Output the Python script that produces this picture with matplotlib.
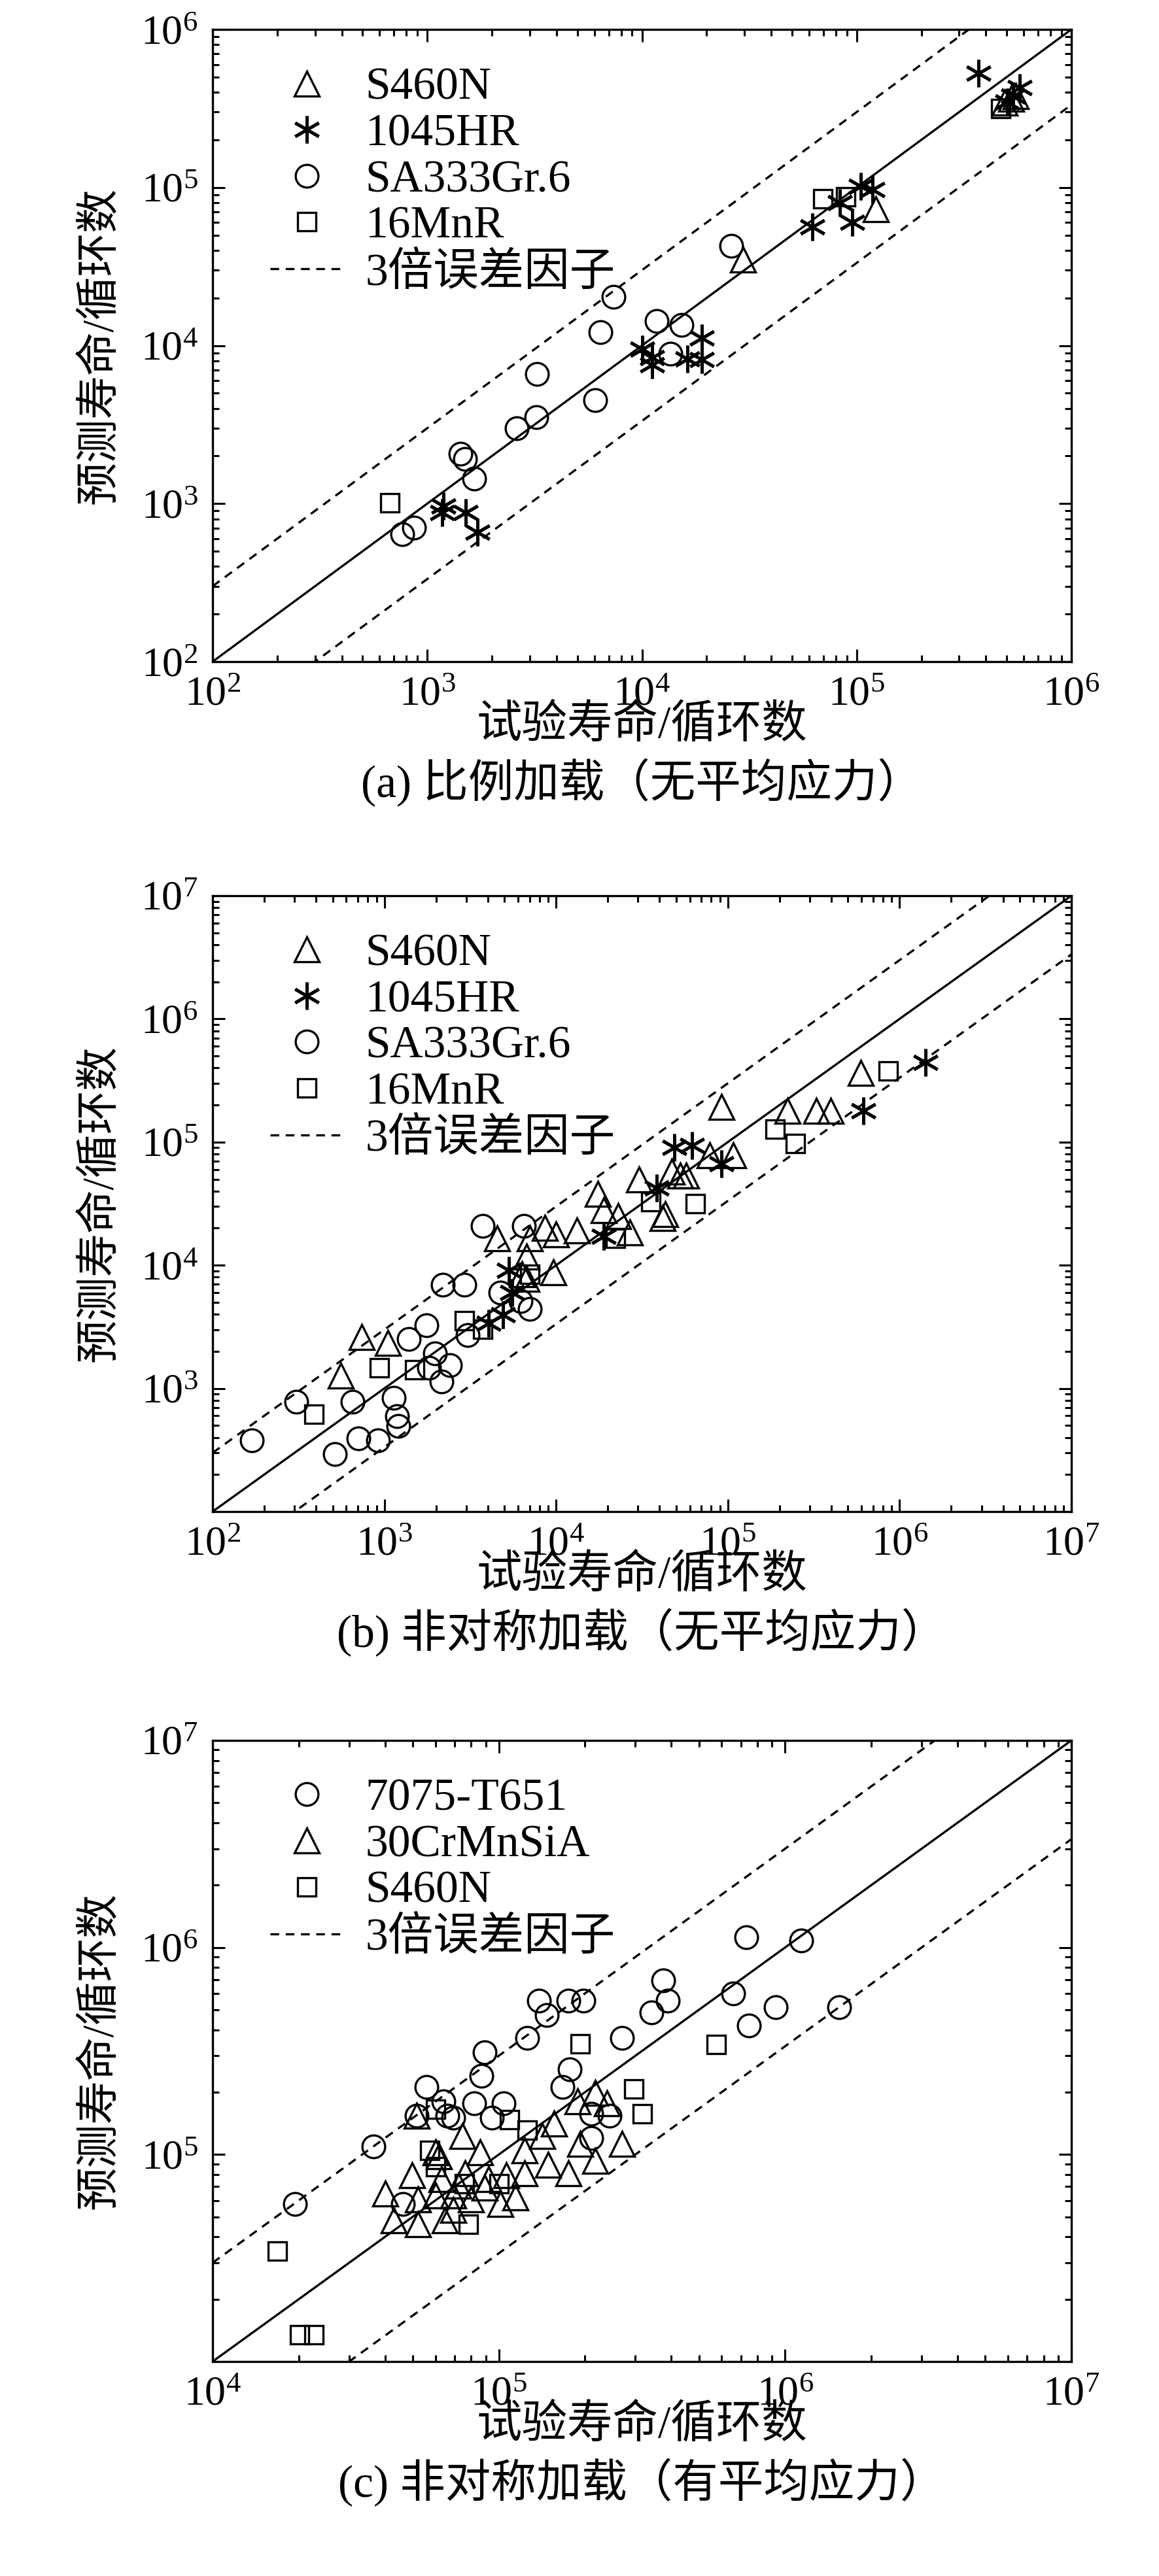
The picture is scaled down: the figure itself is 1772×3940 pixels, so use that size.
import numpy as np
import matplotlib
matplotlib.use("Agg")
import matplotlib.pyplot as plt
from matplotlib.ticker import LogLocator, LogFormatterMathtext, NullFormatter

plt.rcParams['font.family'] = ['Liberation Serif', 'Noto Sans CJK SC']
plt.rcParams['mathtext.fontset'] = 'custom'
plt.rcParams['mathtext.rm'] = 'Liberation Serif'

# ---------------- (a) data: log10 values ----------------
a_s460n_x = [5.088, 4.471, 5.69, 5.72, 5.74]
a_s460n_y = [4.861, 4.543, 5.537, 5.56, 5.58]
a_1045_x = [5.567, 5.759, 5.73, 5.70, 5.019, 5.074, 4.923, 4.978, 4.795, 4.0, 4.047, 4.047, 4.211, 4.279, 4.279, 3.074, 3.068, 3.178, 3.233]
a_1045_y = [5.724, 5.633, 5.58, 5.54, 5.007, 4.985, 4.902, 4.778, 4.75, 3.978, 3.923, 3.88, 3.915, 4.047, 3.909, 2.985, 2.943, 2.943, 2.82]
a_sa_x = [4.416, 3.868, 3.808, 4.068, 4.184, 4.134, 3.512, 3.781, 3.507, 3.416, 3.156, 3.175, 3.219, 2.937, 2.882]
a_sa_y = [4.632, 4.309, 4.083, 4.157, 4.13, 3.95, 3.821, 3.655, 3.545, 3.476, 3.316, 3.283, 3.159, 2.847, 2.806]
a_16_x = [2.827, 4.841, 4.95, 5.671]
a_16_y = [3.007, 4.93, 4.943, 5.5]

# ---------------- (b) data ----------------
b_s460n_x = [5.772, 4.964, 5.349, 5.514, 5.6, 5.033, 4.895, 4.483, 4.672, 4.723, 4.757, 4.242, 4.276, 4.362, 4.431, 4.62, 4.637,
             3.933, 4.0, 4.122, 3.657, 3.847, 3.829, 3.984, 3.829, 2.867, 3.021, 2.746, 3.8]
b_s460n_y = [5.564, 5.285, 5.252, 5.252, 5.252, 4.892, 4.892, 4.695, 4.761, 4.728, 4.728, 4.58, 4.449, 4.4, 4.269, 4.384, 4.416,
             4.302, 4.252, 4.285, 4.22, 4.22, 4.072, 3.941, 3.892, 3.416, 3.367, 3.105, 3.925]
b_1045_x = [6.151, 5.79, 4.689, 4.792, 4.964, 4.586, 4.276, 3.726, 3.743, 3.692, 3.606]
b_1045_y = [5.646, 5.252, 4.957, 4.974, 4.826, 4.63, 4.236, 3.957, 3.777, 3.597, 3.531]
b_sa_x = [3.572, 3.812, 3.341, 3.468, 3.675, 3.795, 3.847, 3.245, 3.486, 3.142, 3.296, 3.382, 3.262, 3.331,
          2.488, 2.815, 3.056, 3.073, 3.08, 2.849, 2.963, 2.23, 2.712]
b_sa_y = [4.318, 4.318, 3.843, 3.843, 3.777, 3.711, 3.646, 3.515, 3.433, 3.4, 3.285, 3.187, 3.17, 3.056,
          2.892, 2.892, 2.925, 2.777, 2.695, 2.597, 2.58, 2.58, 2.466]
b_16_x = [5.934, 5.274, 5.394, 4.809, 4.552, 4.345, 3.847, 3.468, 3.572, 2.97, 3.176, 2.591]
b_16_y = [5.58, 5.105, 4.99, 4.498, 4.515, 4.22, 3.925, 3.548, 3.482, 3.17, 3.154, 2.793]

# ---------------- (c) data ----------------
c_7075_x = [5.864, 6.056, 5.574, 5.591, 5.533, 5.818, 5.967, 5.874, 6.19, 5.14, 5.244, 5.295, 5.167, 5.099, 5.43,
            4.95, 4.938, 5.248, 5.223, 4.748, 4.806, 4.913, 5.017, 4.713, 4.82, 4.841, 4.975, 5.322, 5.388, 5.322,
            4.562, 4.287, 4.665]
c_7075_y = [6.05, 6.034, 5.842, 5.743, 5.687, 5.778, 5.713, 5.624, 5.713, 5.743, 5.743, 5.743, 5.673, 5.564, 5.564,
            5.495, 5.38, 5.412, 5.327, 5.327, 5.257, 5.248, 5.248, 5.188, 5.188, 5.178, 5.178, 5.198, 5.188, 5.079,
            5.04, 4.762, 4.762]
c_30_x = [5.275, 5.337, 5.378, 5.192, 5.151, 5.089, 4.872, 4.934, 4.779, 5.285, 5.43, 5.337, 5.171, 5.244, 4.696,
          4.8, 4.882, 4.965, 5.027, 5.089, 4.603, 4.717, 4.779, 4.841, 4.903, 5.006, 5.058, 4.634, 4.717, 4.81,
          4.841, 4.713, 4.79, 4.86, 4.95]
c_30_y = [5.257, 5.297, 5.248, 5.149, 5.089, 5.02, 5.089, 5.01, 5.01, 5.05, 5.05, 4.97, 4.95, 4.911, 4.901,
          4.881, 4.911, 4.881, 4.901, 4.911, 4.812, 4.782, 4.802, 4.802, 4.782, 4.762, 4.792, 4.683, 4.663, 4.683,
          4.733, 5.188, 4.99, 4.85, 4.84]
c_s460n_x = [5.285, 5.76, 5.471, 5.502, 4.779, 5.037, 5.099, 4.758, 4.893, 4.227, 4.304, 4.355, 4.78, 4.88, 5.0]
c_s460n_y = [5.535, 5.531, 5.317, 5.198, 5.218, 5.168, 5.119, 5.02, 4.663, 4.535, 4.129, 4.129, 4.94, 4.86, 4.86]

W, H = 1772, 3940
fig = plt.figure(figsize=(W / 100, H / 100), dpi=100)

mk = dict(ls='none', mfc='none', mec='black', mew=2.4)
size = {'o': 25, '^': 27, 's': 20}
star = (6, 2, 0)


def make_ax(top, bottom, lo, hi):
    ax = fig.add_axes([325 / W, 1 - bottom / H, (1638 - 325) / W, (bottom - top) / H])
    ax.set_xscale('log')
    ax.set_yscale('log')
    ax.set_xlim(10 ** lo, 10 ** hi)
    ax.set_ylim(10 ** lo, 10 ** hi)
    xx = np.array([10.0 ** lo, 10.0 ** hi])
    ax.plot(xx, xx, 'k-', lw=2.4)
    ax.plot(xx, xx * 3, 'k--', lw=2.4, dashes=(4, 3))
    ax.plot(xx, xx / 3, 'k--', lw=2.4, dashes=(4, 3))
    for a in (ax.xaxis, ax.yaxis):
        a.set_major_locator(LogLocator(base=10, numticks=20))
        a.set_major_formatter(LogFormatterMathtext())
        a.set_minor_locator(LogLocator(base=10, subs=np.arange(2, 10), numticks=20))
        a.set_minor_formatter(NullFormatter())
    ax.tick_params(which='both', direction='in', top=True, right=True, labelsize=46, width=2.2)
    ax.tick_params(which='major', length=14, pad=16)
    ax.tick_params(which='minor', length=7)
    for s in ax.spines.values():
        s.set_linewidth(2.4)
    ax.set_ylabel('预测寿命/循环数', fontsize=48, labelpad=22)
    return ax


def p(ax, xs, ys, marker, label):
    if marker == star:
        ax.plot(10 ** np.array(xs), 10 ** np.array(ys), marker=marker, label=label,
                ls='none', mec='black', mfc='black', mew=3.4, ms=30)
    else:
        ax.plot(10 ** np.array(xs), 10 ** np.array(ys), marker=marker, label=label, ms=size[marker], **mk)


def finish(ax, bottom, cap):
    ax.plot([], [], 'k--', lw=2.4, dashes=(4, 3), label='3倍误差因子')
    ax.legend(loc='upper left', frameon=False, fontsize=50, handlelength=1.6, labelspacing=0.1,
              borderaxespad=0.3, handletextpad=0.5, bbox_to_anchor=(0.03, 0.99))
    fig.text(981 / W, 1 - (bottom + 98) / H, '试验寿命/循环数', fontsize=50, ha='center', va='center')
    fig.text(981 / W, 1 - (bottom + 185) / H, cap, fontsize=50, ha='center', va='center')


ax = make_ax(45, 1012, 2, 6)
p(ax, a_s460n_x, a_s460n_y, '^', 'S460N')
p(ax, a_1045_x, a_1045_y, star, '1045HR')
p(ax, a_sa_x, a_sa_y, 'o', 'SA333Gr.6')
p(ax, a_16_x, a_16_y, 's', '16MnR')
finish(ax, 1012, '(a) 比例加载（无平均应力）')

ax = make_ax(1370, 2312, 2, 7)
p(ax, b_s460n_x, b_s460n_y, '^', 'S460N')
p(ax, b_1045_x, b_1045_y, star, '1045HR')
p(ax, b_sa_x, b_sa_y, 'o', 'SA333Gr.6')
p(ax, b_16_x, b_16_y, 's', '16MnR')
ax.set_yticks([1e3, 1e4, 1e5, 1e6, 1e7])
finish(ax, 2312, '(b) 非对称加载（无平均应力）')

ax = make_ax(2662, 3612, 4, 7)
p(ax, c_7075_x, c_7075_y, 'o', '7075-T651')
p(ax, c_30_x, c_30_y, '^', '30CrMnSiA')
p(ax, c_s460n_x, c_s460n_y, 's', 'S460N')
ax.set_yticks([1e5, 1e6, 1e7])
finish(ax, 3612, '(c) 非对称加载（有平均应力）')

fig.savefig('out.png', dpi=100)
